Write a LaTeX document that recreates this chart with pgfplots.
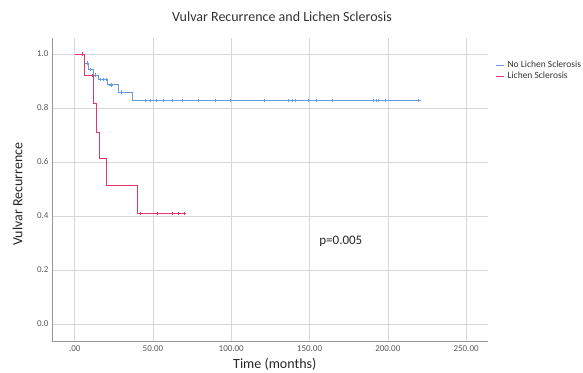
\documentclass[border=0pt]{standalone}
\usepackage{fontspec}
\setmainfont{Carlito}
\usepackage{pgfplots}
\pgfplotsset{compat=1.18}
\definecolor{nolsblue}{RGB}{100,155,225}
\definecolor{lsred}{RGB}{225,55,105}
\definecolor{gridc}{RGB}{215,215,215}
\definecolor{axc}{RGB}{150,150,150}
\begin{document}
\begin{tikzpicture}[x=1pt,y=1pt]
\useasboundingbox (0,0) rectangle (583,372);
\begin{axis}[at={(52pt,31pt)}, anchor=south west,
  scale only axis, width=436pt, height=303pt,
  xmin=-14.5, xmax=264, ymin=-0.063, ymax=1.059,
  xtick={0,50,100,150,200,250},
  xticklabels={.00,50.00,100.00,150.00,200.00,250.00},
  ytick={0,0.2,0.4,0.6,0.8,1.0},
  yticklabel style={/pgf/number format/.cd,fixed,fixed zerofill,precision=1},
  /pgf/number format/assume math mode=true,
  ticklabel style={font=\fontsize{9}{10}\selectfont, text=black!65},
  xticklabel style={yshift=-1pt},
  major tick length=0pt,
  axis lines=left, axis line style={-, axc, line width=0.8pt},
  grid=major, major grid style={gridc, line width=0.6pt},
  xlabel={Time (months)}, ylabel={Vulvar Recurrence},
  label style={font=\fontsize{14}{16}\selectfont, text=black!85},
  xlabel style={at={(rel axis cs:0.511,-0.077)}, anchor=center},
  ylabel style={at={(rel axis cs:-0.079,0.485)}, anchor=center},
  legend style={at={(rel axis cs:1.016,0.93)}, anchor=north west, draw=none, fill=none,
    font=\fontsize{9.5}{11}\selectfont, row sep=0pt, inner sep=0pt,
    nodes={inner xsep=3.5pt, inner ysep=1.5pt, text=black!80}},
  legend cell align=left,
  legend image code/.code={\draw[#1, line width=0.9pt] (0pt,0pt) -- (8pt,0pt);},
  clip=false,
]
\addplot[const plot, nolsblue, line width=0.8pt] coordinates {
  (0,1) (6.5,0.966) (9,0.943) (12,0.921) (15,0.906) (21,0.886)
  (28,0.859) (37,0.828) (221,0.828)
};
\addlegendentry{No Lichen Sclerosis}
\addplot[const plot, lsred, line width=0.8pt] coordinates {
  (0,1) (6.5,0.92) (12,0.816) (14,0.71) (16,0.612) (20,0.514) (40,0.409) (70,0.409)
};
\addlegendentry{Lichen Sclerosis}
\addplot[only marks, mark=+, mark size=1.8pt, nolsblue, forget plot] coordinates {
  (8,0.966) (10,0.943) (13,0.921) (16,0.906) (18,0.906) (20,0.906) (23,0.886) (30,0.859)
  (45,0.828) (48,0.828) (52,0.828) (56.5,0.828) (62,0.828) (68.5,0.828) (79,0.828)
  (90,0.828) (99.5,0.828) (121,0.828) (136.6,0.828) (138.7,0.828) (140.8,0.828)
  (149.3,0.828) (154.2,0.828) (164.2,0.828) (190.8,0.828) (192.5,0.828) (194,0.828)
  (198.3,0.828) (219.6,0.828)
};
\addplot[only marks, mark=+, mark size=1.8pt, lsred, forget plot] coordinates {
  (5,1) (11,0.92) (42,0.409) (53,0.409) (62,0.409) (66,0.409) (70,0.409)
};
\node[font=\fontsize{13}{15}\selectfont, text=black!85] at (axis cs:170,0.307) {p=0.005};
\node[font=\fontsize{14}{16}\selectfont, text=black!80] at (rel axis cs:0.5275,1.069) {Vulvar Recurrence and Lichen Sclerosis};
\end{axis}
\end{tikzpicture}
\end{document}
